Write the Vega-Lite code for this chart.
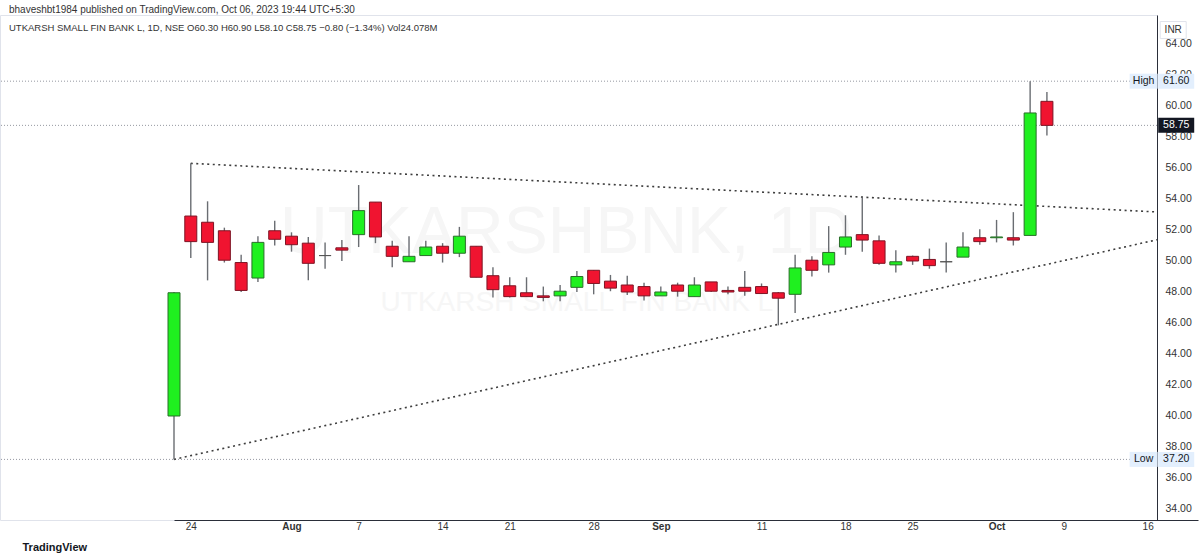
{
  "$schema": "https://vega.github.io/schema/vega-lite/v6.json",
  "width": 1157,
  "height": 505,
  "autosize": {"type": "none"},
  "padding": {"left": 0, "right": 43, "top": 15, "bottom": 39},
  "background": "white",
  "config": {
    "view": {"stroke": "#e0e3eb"},
    "font": "Liberation Sans"
  },
  "title": {
    "text": "bhaveshbt1984 published on TradingView.com, Oct 06, 2023 19:44 UTC+5:30",
    "subtitle": "UTKARSH SMALL FIN BANK L, 1D, NSE  O60.30  H60.90  L58.10  C58.75  −0.80 (−1.34%)  Vol24.078M",
    "anchor": "start",
    "frame": "group",
    "offset": -17,
    "dx": 9,
    "fontSize": 10,
    "fontWeight": "normal",
    "color": "#333333",
    "font": "Liberation Sans",
    "subtitleFont": "Liberation Sans",
    "subtitleFontSize": 9.5,
    "subtitleColor": "#333333",
    "subtitlePadding": 8
  },
  "datasets": {
    "candles": [
      {"d": "2023-07-21", "o": 40.00, "h": 48.00, "l": 37.20, "c": 47.95},
      {"d": "2023-07-24", "o": 52.90, "h": 56.30, "l": 50.20, "c": 51.25},
      {"d": "2023-07-25", "o": 52.50, "h": 53.85, "l": 48.75, "c": 51.20},
      {"d": "2023-07-26", "o": 51.95, "h": 52.15, "l": 49.90, "c": 50.05},
      {"d": "2023-07-27", "o": 49.90, "h": 50.40, "l": 48.00, "c": 48.10},
      {"d": "2023-07-28", "o": 48.90, "h": 51.60, "l": 48.65, "c": 51.20},
      {"d": "2023-07-31", "o": 51.95, "h": 52.60, "l": 51.00, "c": 51.40},
      {"d": "2023-08-01", "o": 51.60, "h": 51.85, "l": 50.60, "c": 51.05},
      {"d": "2023-08-02", "o": 51.15, "h": 51.55, "l": 48.75, "c": 49.85},
      {"d": "2023-08-03", "o": 50.35, "h": 51.20, "l": 49.50, "c": 50.35},
      {"d": "2023-08-04", "o": 50.85, "h": 51.35, "l": 50.00, "c": 50.70},
      {"d": "2023-08-07", "o": 51.70, "h": 54.90, "l": 50.90, "c": 53.25},
      {"d": "2023-08-08", "o": 53.80, "h": 53.80, "l": 51.15, "c": 51.55},
      {"d": "2023-08-09", "o": 50.95, "h": 51.30, "l": 49.60, "c": 50.30},
      {"d": "2023-08-10", "o": 49.95, "h": 51.60, "l": 49.95, "c": 50.30},
      {"d": "2023-08-11", "o": 50.35, "h": 51.30, "l": 50.35, "c": 50.90},
      {"d": "2023-08-14", "o": 50.95, "h": 51.15, "l": 49.90, "c": 50.50},
      {"d": "2023-08-16", "o": 50.50, "h": 52.20, "l": 50.25, "c": 51.60},
      {"d": "2023-08-17", "o": 50.95, "h": 50.95, "l": 48.95, "c": 48.95},
      {"d": "2023-08-18", "o": 49.05, "h": 49.60, "l": 47.65, "c": 48.15},
      {"d": "2023-08-21", "o": 48.40, "h": 48.95, "l": 47.65, "c": 47.70},
      {"d": "2023-08-22", "o": 47.95, "h": 48.95, "l": 47.70, "c": 47.70},
      {"d": "2023-08-23", "o": 47.75, "h": 48.35, "l": 47.40, "c": 47.65},
      {"d": "2023-08-24", "o": 47.75, "h": 48.45, "l": 47.40, "c": 48.05},
      {"d": "2023-08-25", "o": 48.30, "h": 49.35, "l": 48.00, "c": 49.00},
      {"d": "2023-08-28", "o": 49.40, "h": 49.40, "l": 47.85, "c": 48.55},
      {"d": "2023-08-29", "o": 48.70, "h": 49.10, "l": 48.05, "c": 48.25},
      {"d": "2023-08-30", "o": 48.45, "h": 49.05, "l": 47.80, "c": 48.00},
      {"d": "2023-08-31", "o": 48.35, "h": 48.60, "l": 47.45, "c": 47.75},
      {"d": "2023-09-01", "o": 47.75, "h": 48.35, "l": 47.75, "c": 48.00},
      {"d": "2023-09-04", "o": 48.45, "h": 48.60, "l": 47.70, "c": 48.05},
      {"d": "2023-09-05", "o": 47.70, "h": 48.95, "l": 47.70, "c": 48.45},
      {"d": "2023-09-06", "o": 48.65, "h": 48.65, "l": 48.00, "c": 48.05},
      {"d": "2023-09-07", "o": 48.10, "h": 48.35, "l": 47.85, "c": 48.00},
      {"d": "2023-09-08", "o": 48.30, "h": 49.35, "l": 47.75, "c": 48.05},
      {"d": "2023-09-11", "o": 48.35, "h": 48.55, "l": 47.90, "c": 47.90},
      {"d": "2023-09-12", "o": 47.95, "h": 48.00, "l": 45.85, "c": 47.60},
      {"d": "2023-09-13", "o": 47.85, "h": 50.40, "l": 46.65, "c": 49.55},
      {"d": "2023-09-14", "o": 50.05, "h": 50.30, "l": 49.00, "c": 49.40},
      {"d": "2023-09-15", "o": 49.75, "h": 52.25, "l": 49.25, "c": 50.55},
      {"d": "2023-09-18", "o": 50.90, "h": 52.95, "l": 50.40, "c": 51.55},
      {"d": "2023-09-20", "o": 51.70, "h": 54.10, "l": 50.60, "c": 51.35},
      {"d": "2023-09-21", "o": 51.30, "h": 51.65, "l": 49.75, "c": 49.85},
      {"d": "2023-09-22", "o": 49.75, "h": 50.70, "l": 49.25, "c": 49.95},
      {"d": "2023-09-25", "o": 50.30, "h": 50.35, "l": 49.75, "c": 50.00},
      {"d": "2023-09-26", "o": 50.10, "h": 50.80, "l": 49.50, "c": 49.70},
      {"d": "2023-09-27", "o": 49.95, "h": 51.20, "l": 49.25, "c": 49.95},
      {"d": "2023-09-28", "o": 50.25, "h": 51.85, "l": 50.25, "c": 50.90},
      {"d": "2023-09-29", "o": 51.50, "h": 52.05, "l": 51.05, "c": 51.25},
      {"d": "2023-10-03", "o": 51.50, "h": 52.65, "l": 51.20, "c": 51.55},
      {"d": "2023-10-04", "o": 51.50, "h": 53.15, "l": 51.00, "c": 51.35},
      {"d": "2023-10-05", "o": 51.65, "h": 61.60, "l": 51.65, "c": 59.55},
      {"d": "2023-10-06", "o": 60.30, "h": 60.90, "l": 58.10, "c": 58.75}
    ],
    "trend": [
      {"line": "upper", "d": "2023-07-24", "p": 56.30},
      {"line": "upper", "d": "2023-10-19", "p": 53.03},
      {"line": "lower", "d": "2023-07-21", "p": 37.20},
      {"line": "lower", "d": "2023-10-19", "p": 51.96}
    ],
    "tags": [
      {"p": 61.60, "t": "High", "v": "61.60"},
      {"p": 58.75, "t": "", "v": "58.75"},
      {"p": 37.20, "t": "Low", "v": "37.20"}
    ]
  },
  "encoding": {
    "x": {
      "field": "d",
      "type": "ordinal",
      "scale": {
        "type": "point",
        "range": [174, 1198],
        "padding": 0,
        "domain": ["2023-07-21","2023-07-24","2023-07-25","2023-07-26","2023-07-27","2023-07-28","2023-07-31","2023-08-01","2023-08-02","2023-08-03","2023-08-04","2023-08-07","2023-08-08","2023-08-09","2023-08-10","2023-08-11","2023-08-14","2023-08-16","2023-08-17","2023-08-18","2023-08-21","2023-08-22","2023-08-23","2023-08-24","2023-08-25","2023-08-28","2023-08-29","2023-08-30","2023-08-31","2023-09-01","2023-09-04","2023-09-05","2023-09-06","2023-09-07","2023-09-08","2023-09-11","2023-09-12","2023-09-13","2023-09-14","2023-09-15","2023-09-18","2023-09-20","2023-09-21","2023-09-22","2023-09-25","2023-09-26","2023-09-27","2023-09-28","2023-09-29","2023-10-03","2023-10-04","2023-10-05","2023-10-06","2023-10-09","2023-10-10","2023-10-11","2023-10-12","2023-10-13","2023-10-16","2023-10-17","2023-10-18","2023-10-19"]
      },
      "axis": {
        "orient": "bottom",
        "values": ["2023-07-24","2023-08-01","2023-08-07","2023-08-14","2023-08-21","2023-08-28","2023-09-01","2023-09-11","2023-09-18","2023-09-25","2023-10-03","2023-10-09","2023-10-16"],
        "labelExpr": "datum.value == '2023-08-01' ? 'Aug' : datum.value == '2023-09-01' ? 'Sep' : datum.value == '2023-10-03' ? 'Oct' : '' + toNumber(slice(datum.value, 8, 10))",
        "labelFontWeight": {"condition": {"test": "datum.value == '2023-08-01' || datum.value == '2023-09-01' || datum.value == '2023-10-03'", "value": "bold"}, "value": "normal"},
        "labelAngle": 0,
        "labelFontSize": 10,
        "labelColor": "#333333",
        "labelPadding": 1,
        "labelOverlap": false,
        "ticks": false,
        "grid": false,
        "domainColor": "#2a2e39",
        "domainWidth": 1,
        "title": "TradingView",
        "titleAnchor": "start",
        "titleAlign": "left",
        "titleBaseline": "middle",
        "titleX": 22,
        "titleY": 27,
        "titleFontSize": 11,
        "titleFontWeight": "bold",
        "titleColor": "#131722"
      }
    }
  },
  "layer": [
    {
      "data": {"values": [{"d": "2023-08-24", "p": 51.81, "t": "UTKARSHBNK, 1D"}]},
      "mark": {"type": "text", "fontSize": 66, "color": "#f6f6f6", "align": "center", "baseline": "middle", "dx": 6},
      "encoding": {
        "y": {"field": "p", "type": "quantitative", "scale": {"domain": [33.29, 65.87], "nice": false, "zero": false},
          "axis": {"orient": "right", "values": [34,36,38,40,42,44,46,48,50,52,54,56,58,60,62,64], "tickCount": 20, "format": ".2f", "labelOverlap": false, "ticks": false, "grid": false, "domainColor": "#2a2e39", "labelFontSize": 10.5, "labelColor": "#333333", "labelPadding": 8, "title": null}},
        "text": {"field": "t"}
      }
    },
    {
      "data": {"values": [{"d": "2023-08-25", "p": 47.3, "t": "UTKARSH SMALL FIN BANK L"}]},
      "mark": {"type": "text", "fontSize": 28, "color": "#f6f6f6", "align": "center", "baseline": "middle"},
      "encoding": {
        "y": {"field": "p", "type": "quantitative", "scale": {"domain": [33.29, 65.87], "nice": false, "zero": false}},
        "text": {"field": "t"}
      }
    },
    {
      "data": {"name": "tags"},
      "mark": {"type": "rule", "strokeDash": [1, 2], "color": "#9598a1", "strokeWidth": 1},
      "encoding": {
        "x": null,
        "y": {"field": "p", "type": "quantitative", "scale": {"domain": [33.29, 65.87], "nice": false, "zero": false}}
      }
    },
    {
      "data": {"name": "trend"},
      "mark": {"type": "line", "clip": true, "strokeDash": [2, 3.5], "strokeWidth": 1.6, "color": "#3d3d3d"},
      "encoding": {
        "y": {"field": "p", "type": "quantitative", "scale": {"domain": [33.29, 65.87], "nice": false, "zero": false}},
        "detail": {"field": "line"}
      }
    },
    {
      "data": {"name": "candles"},
      "mark": {"type": "rule", "color": "#6a6d72", "strokeWidth": 1.4},
      "encoding": {
        "y": {"field": "l", "type": "quantitative", "scale": {"domain": [33.29, 65.87], "nice": false, "zero": false}},
        "y2": {"field": "h"}
      }
    },
    {
      "data": {"name": "candles"},
      "mark": {"type": "bar", "width": 12, "strokeWidth": 1},
      "encoding": {
        "y": {"field": "o", "type": "quantitative", "scale": {"domain": [33.29, 65.87], "nice": false, "zero": false}},
        "y2": {"field": "c"},
        "fill": {"condition": [{"test": "datum.c > datum.o", "value": "#1ff01f"}, {"test": "datum.c < datum.o", "value": "#f01430"}], "value": "#555555"},
        "stroke": {"condition": [{"test": "datum.c > datum.o", "value": "#2a6e2a"}, {"test": "datum.c < datum.o", "value": "#7e1424"}], "value": "#555555"}
      }
    },
    {
      "data": {"values": [{"p": 64.9}]},
      "mark": {"type": "tick", "orient": "horizontal", "size": 26, "thickness": 17, "xOffset": -8, "color": "#ffffff", "stroke": "#e0e3eb", "strokeWidth": 1, "opacity": 1},
      "encoding": {
        "x": {"datum": "2023-10-18", "type": "ordinal"},
        "y": {"field": "p", "type": "quantitative", "scale": {"domain": [33.29, 65.87], "nice": false, "zero": false}}
      }
    },
    {
      "data": {"name": "tags"},
      "mark": {"type": "tick", "orient": "horizontal", "size": 36, "thickness": 15, "xOffset": -5, "opacity": 1},
      "encoding": {
        "x": {"datum": "2023-10-18", "type": "ordinal"},
        "y": {"field": "p", "type": "quantitative", "scale": {"domain": [33.29, 65.87], "nice": false, "zero": false}},
        "color": {"condition": {"test": "datum.t == ''", "value": "#131722"}, "value": "#e3effd"}
      }
    },
    {
      "data": {"name": "tags"},
      "transform": [{"filter": "datum.t != ''"}],
      "mark": {"type": "tick", "orient": "horizontal", "size": 28, "thickness": 15, "xOffset": -4, "color": "#e3effd", "opacity": 1},
      "encoding": {
        "x": {"datum": "2023-10-16", "type": "ordinal"},
        "y": {"field": "p", "type": "quantitative", "scale": {"domain": [33.29, 65.87], "nice": false, "zero": false}}
      }
    },
    {
      "data": {"name": "tags"},
      "mark": {"type": "text", "fontSize": 10.5, "align": "center", "baseline": "middle", "dx": -5},
      "encoding": {
        "x": {"datum": "2023-10-18", "type": "ordinal"},
        "y": {"field": "p", "type": "quantitative", "scale": {"domain": [33.29, 65.87], "nice": false, "zero": false}},
        "text": {"field": "v"},
        "color": {"condition": {"test": "datum.t == ''", "value": "#ffffff"}, "value": "#131722"},
        "fontWeight": {"condition": {"test": "datum.t == ''", "value": "bold"}, "value": "normal"}
      }
    },
    {
      "data": {"name": "tags"},
      "mark": {"type": "text", "fontSize": 10.5, "align": "center", "baseline": "middle", "dx": -4, "color": "#131722"},
      "encoding": {
        "x": {"datum": "2023-10-16", "type": "ordinal"},
        "y": {"field": "p", "type": "quantitative", "scale": {"domain": [33.29, 65.87], "nice": false, "zero": false}},
        "text": {"field": "t"}
      }
    },
    {
      "data": {"values": [{"p": 64.9, "t": "INR"}]},
      "mark": {"type": "text", "fontSize": 10, "align": "center", "baseline": "middle", "dx": -8, "color": "#333333"},
      "encoding": {
        "x": {"datum": "2023-10-18", "type": "ordinal"},
        "y": {"field": "p", "type": "quantitative", "scale": {"domain": [33.29, 65.87], "nice": false, "zero": false}},
        "text": {"field": "t"}
      }
    }
  ]
}
